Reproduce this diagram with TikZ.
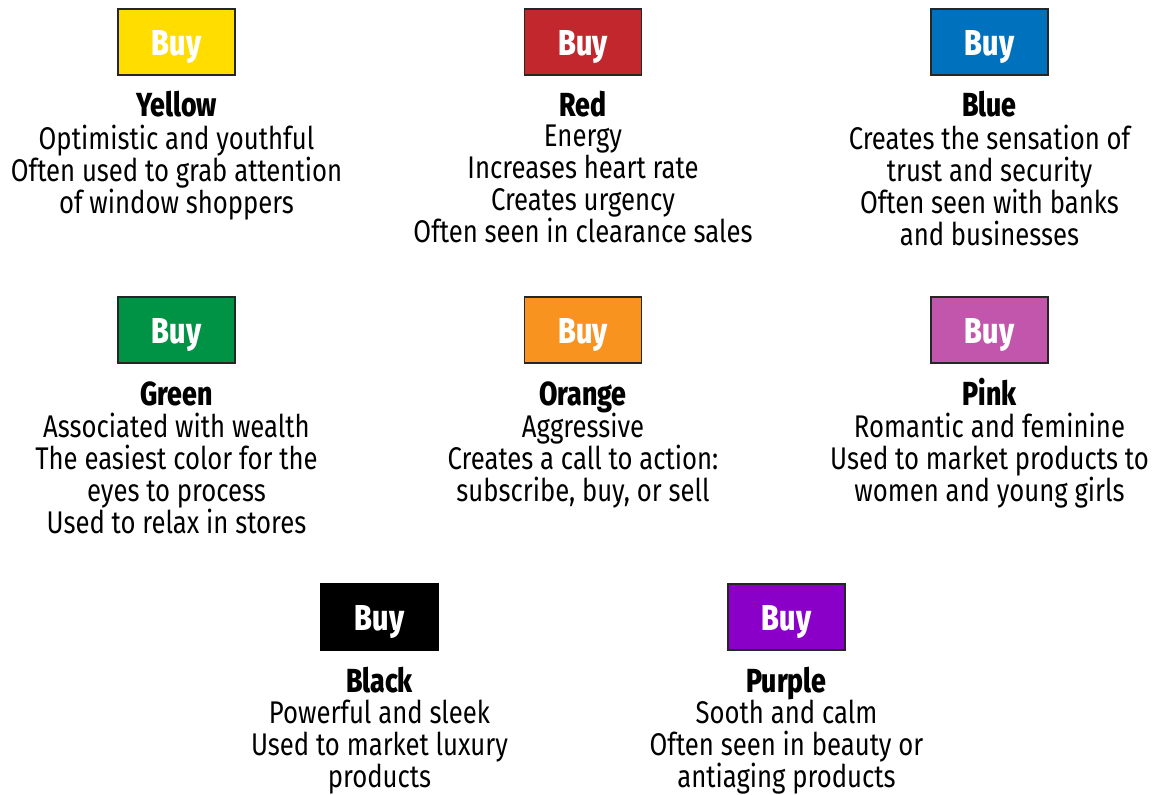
\documentclass[tikz,border=0pt]{standalone}
\usepackage{fontspec}
\setmainfont[FakeStretch=0.82]{Fira Sans}
\newfontfamily\heavyfont[FakeStretch=0.8]{Fira Sans ExtraBold}
\newcommand{\buylabel}{\raisebox{-10pt}[0pt][0pt]{Buy}}
\begin{document}
\begin{tikzpicture}[x=0.75pt,y=-0.75pt,
  buybox/.style={draw=black!85,line width=1.1pt,minimum width=87.5pt,minimum height=49.5pt,inner sep=0pt,
     text=white,font=\fontsize{27}{29}\heavyfont},
  ctitle/.style={font=\fontsize{25}{28}\heavyfont,inner sep=0pt,anchor=base},
  cbody/.style={font=\fontsize{23.5}{24}\selectfont,align=center,inner sep=0pt,anchor=north}]
\definecolor{cyellow}{HTML}{FFDD00}
\definecolor{cred}{HTML}{C1272D}
\definecolor{cblue}{HTML}{0071BC}
\definecolor{cgreen}{HTML}{009245}
\definecolor{corange}{HTML}{F7931E}
\definecolor{cpink}{HTML}{C255AC}
\definecolor{cpurple}{HTML}{8A00C8}
\useasboundingbox (0,0) rectangle (1158,795);
% row 1
\node[buybox,fill=cyellow] (by) at (176.5,42) {\buylabel};
\node[ctitle] (ty) at (176.5,117) {Yellow};
\node[cbody] (dy) at (176.5,125) {Optimistic and youthful\\Often used to grab attention\\of window shoppers};
\node[buybox,fill=cred] (br) at (583,42) {\buylabel};
\node[ctitle] (tr) at (583,117) {Red};
\node[cbody] (dr) at (583,125) {Energy\\Increases heart rate\\Creates urgency\\Often seen in clearance sales};
\node[buybox,fill=cblue] (bb) at (989.5,42) {\buylabel};
\node[ctitle] (tb) at (989.5,117) {Blue};
\node[cbody] (db) at (989.5,125) {Creates the sensation of\\trust and security\\Often seen with banks\\and businesses};
% row 2
\node[buybox,fill=cgreen] (bg) at (176.5,330) {\buylabel};
\node[ctitle] (tg) at (176.5,405) {Green};
\node[cbody] (dg) at (176.5,413) {Associated with wealth\\The easiest color for the\\eyes to process\\Used to relax in stores};
\node[buybox,fill=corange] (bo) at (583,330) {\buylabel};
\node[ctitle] (to) at (583,405) {Orange};
\node[cbody] (do) at (583,413) {Aggressive\\Creates a call to action:\\subscribe, buy, or sell};
\node[buybox,fill=cpink] (bp) at (989.5,330) {\buylabel};
\node[ctitle] (tp) at (989.5,405) {Pink};
\node[cbody] (dp) at (989.5,413) {Romantic and feminine\\Used to market products to\\women and young girls};
% row 3
\node[buybox,fill=black,draw=black] (bk) at (379.5,617) {\buylabel};
\node[ctitle] (tk) at (379.5,692) {Black};
\node[cbody] (dk) at (379.5,700) {Powerful and sleek\\Used to market luxury\\products};
\node[buybox,fill=cpurple] (bu) at (786.5,617) {\buylabel};
\node[ctitle] (tu) at (786.5,692) {Purple};
\node[cbody] (du) at (786.5,700) {Sooth and calm\\Often seen in beauty or\\antiaging products};
\end{tikzpicture}
\end{document}
